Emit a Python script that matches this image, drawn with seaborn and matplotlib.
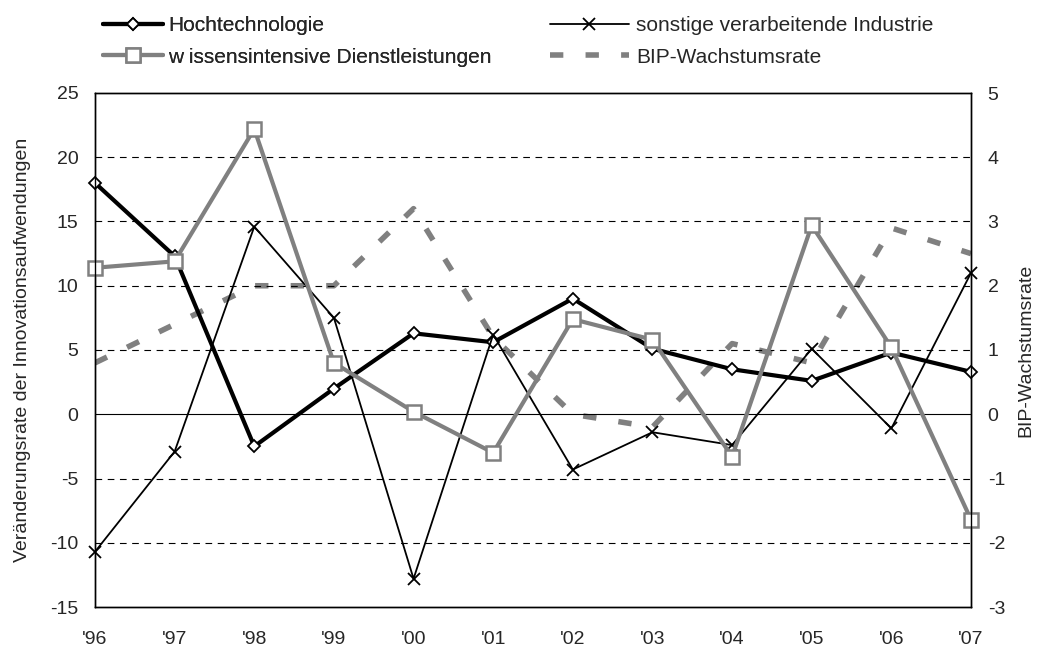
import pandas as pd
import seaborn as sns
import matplotlib.pyplot as plt

years = ["'96", "'97", "'98", "'99", "'00", "'01", "'02", "'03", "'04", "'05", "'06", "'07"]
hochtech = [18.0, 12.3, -2.5, 2.0, 6.3, 5.6, 9.0, 5.1, 3.5, 2.6, 4.8, 3.3]
sonstige = [-10.7, -2.9, 14.6, 7.5, -12.8, 6.2, -4.3, -1.4, -2.4, 5.1, -1.1, 11.0]
wissen = [11.4, 11.9, 22.2, 4.0, 0.2, -3.0, 7.4, 5.8, -3.3, 14.7, 5.2, -8.2]
bip = [0.8, 1.4, 2.0, 2.0, 3.2, 1.2, 0.0, -0.2, 1.1, 0.8, 2.9, 2.5]


def main():
    sns.set_style("white")
    plt.rcParams['font.family'] = ['Liberation Sans', 'DejaVu Sans']
    plt.rcParams['axes.unicode_minus'] = False

    df = pd.DataFrame({"x": range(len(years)), "hoch": hochtech, "sonst": sonstige,
                       "wissen": wissen, "bip": bip})

    fig, ax = plt.subplots(figsize=(10.42, 6.46), dpi=100)
    fig.subplots_adjust(left=95 / 1042, right=971 / 1042, top=1 - 93 / 646, bottom=1 - 607 / 646)
    ax2 = ax.twinx()

    # BIP on secondary axis, drawn below
    ax2.set_zorder(0)
    ax.set_zorder(1)
    ax.patch.set_visible(False)

    sns.lineplot(data=df, x="x", y="bip", ax=ax2, color="#808080", lw=4,
                 linestyle=(0, (2.4, 4.0)), legend=False)

    # grid
    for v in [20, 15, 10, 5, -5, -10]:
        ax.axhline(v, color="black", lw=0.8, ls=(0, (6, 5)), zorder=0)
    ax.axhline(0, color="black", lw=0.8, zorder=0)

    sns.lineplot(data=df, x="x", y="hoch", ax=ax, color="black", lw=3, marker="D", ms=6.5,
                 mfc="white", mec="black", mew=1.3, label="Hochtechnologie", legend=False,
                 clip_on=False)
    sns.lineplot(data=df, x="x", y="sonst", ax=ax, color="black", lw=1.3, marker="x", ms=9,
                 mec="black", mew=1.3, label="sonstige verarbeitende Industrie", legend=False,
                 clip_on=False)
    sns.lineplot(data=df, x="x", y="wissen", ax=ax, color="#808080", lw=3, marker="s", ms=9.5,
                 mfc="white", mec="#808080", mew=1.8, label="w issensintensive Dienstleistungen",
                 legend=False, clip_on=False)

    ax.set_ylim(-15, 25)
    ax.set_yticks(range(-15, 26, 5))
    ax2.set_ylim(-3, 5)
    ax2.set_yticks(range(-3, 6))
    ax.set_xlim(0, len(years) - 1)
    ax.set_xticks(range(len(years)))
    ax.set_xticklabels(years)

    for a in (ax, ax2):
        for s in a.spines.values():
            s.set_color("black")
            s.set_linewidth(1.0)
        a.tick_params(labelsize=14, length=0, pad=12)
    ax.tick_params(axis="x", length=0, pad=17)

    ax.set_xlabel("")
    ax.set_ylabel("Veränderungsrate der Innovationsaufwendungen", fontsize=14, labelpad=14)
    ax2.set_ylabel("BIP-Wachstumsrate", fontsize=14, labelpad=9)

    h1, l1 = ax.get_legend_handles_labels()
    h2 = ax2.get_lines()[0]
    leg1 = fig.legend([h1[0], h1[2]], [l1[0], l1[2]], loc="upper left",
                      bbox_to_anchor=(84 / 1042, 1.004), frameon=False, fontsize=15,
                      handlelength=2.9, handletextpad=0.25, labelspacing=0.6)
    fig.add_artist(leg1)
    fig.legend([h1[1], h2], [l1[1], "BIP-Wachstumsrate"], loc="upper left",
               bbox_to_anchor=(531 / 1042, 1.004), frameon=False, fontsize=15,
               handlelength=3.8, handletextpad=0.35, labelspacing=0.6)

    plt.savefig("out.png", dpi=100)


if __name__ == "__main__":
    main()
